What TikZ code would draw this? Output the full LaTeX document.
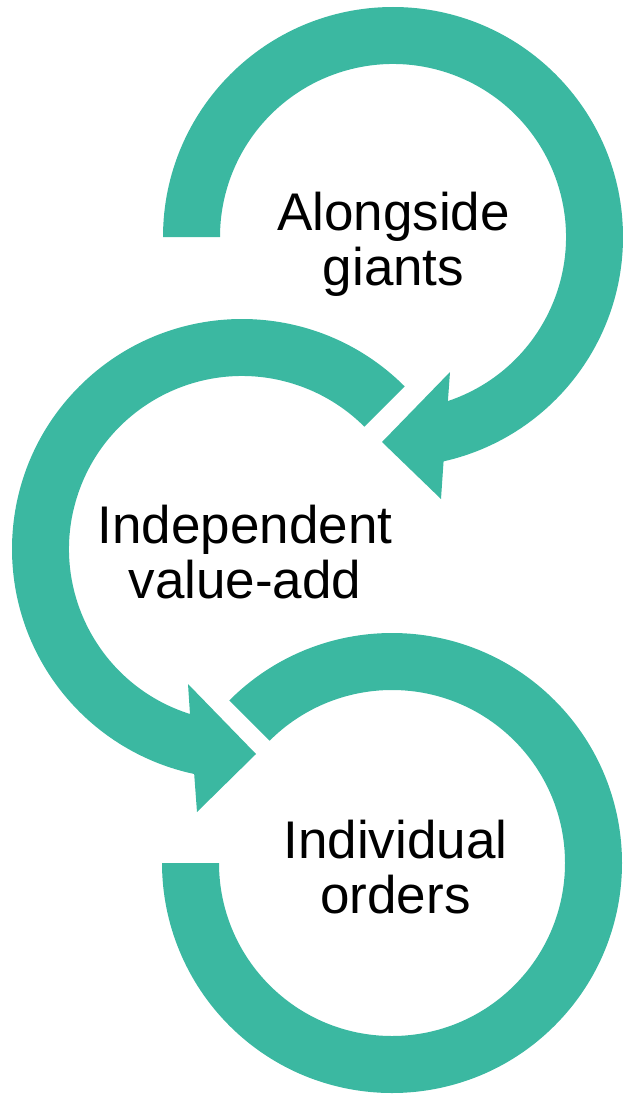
\documentclass[tikz,border=0pt]{standalone}
\usepackage{fontspec}
\setmainfont{Liberation Sans}
\usetikzlibrary{calc}
\definecolor{ringteal}{RGB}{59,184,161}
\begin{document}
\begin{tikzpicture}[x=1pt,y=1pt,
  ring/.style={fill=ringteal, draw=none},
  cyclelabel/.style={font=\fontsize{53}{55}\selectfont, align=center,
    anchor=base, inner sep=0pt, text=black}]
\useasboundingbox (0,0) rectangle (623,-1094);

% ring centres
\coordinate (c1) at (393,-237);
\coordinate (c2) at (242,-549);
\coordinate (c3) at (392,-863);

% arrow heads: upper barb, tip, lower barb
\coordinate (h1u) at (450,-372);
\coordinate (h1t) at (382,-442);
\coordinate (h1l) at (441,-499);
\coordinate (h2u) at (188,-684);
\coordinate (h2t) at (256,-754);
\coordinate (h2l) at (197,-812);

% top ring, clockwise, ending in an arrow head
\fill[ring] ($(c1)+(180:230)$) arc[start angle=180, end angle=-77.3, radius=230]
  -- (h1l) -- (h1t) -- (h1u)
  -- ($(c1)+(-71.5:173)$) arc[start angle=-71.5, end angle=180, radius=173] -- cycle;

% middle ring, counter-clockwise, ending in an arrow head
\fill[ring] ($(c2)+(45:230)$) arc[start angle=45, end angle=258, radius=230]
  -- (h2l) -- (h2t) -- (h2u)
  -- ($(c2)+(252.5:173)$) arc[start angle=252.5, end angle=45, radius=173] -- cycle;

% bottom ring, open at the left
\fill[ring] ($(c3)+(135:230)$) arc[start angle=135, end angle=-180, radius=230]
  -- ($(c3)+(180:173)$) arc[start angle=-180, end angle=135, radius=173] -- cycle;

% labels (base anchor sits on the last line)
\node[cyclelabel] (t1) at (393.5,-285) {Alongside\\giants};
\node[cyclelabel] (t2) at (245,-598) {Independent\\value-add};
\node[cyclelabel] (t3) at (395.5,-913) {Individual\\orders};
\end{tikzpicture}
\end{document}
